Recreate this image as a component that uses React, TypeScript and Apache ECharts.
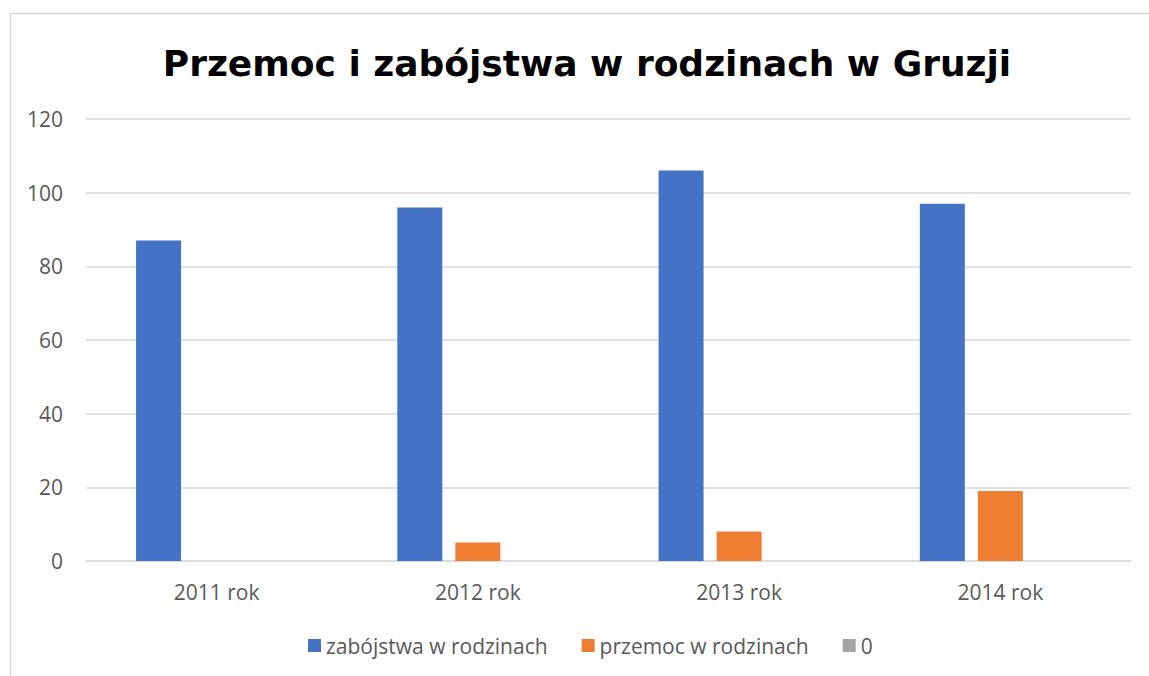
import React, { useEffect, useRef } from "react";
import * as echarts from "echarts";

const categories = ["2011 rok", "2012 rok", "2013 rok", "2014 rok"];
const zabojstwa = [87, 96, 106, 97];
const przemoc = [0, 5, 8, 19];
const zero = [0, 0, 0, 0];
const seriesNames = ["zabójstwa w rodzinach", "przemoc w rodzinach", "0"];
const colors = ["#4472C4", "#ED7D31", "#A5A5A5"];
const yTicks = { min: 0, max: 120, interval: 20 };

export default function App() {
  const ref = useRef<HTMLDivElement>(null);
  useEffect(() => {
    if (!ref.current) return;
    const chart = echarts.init(ref.current, null, { renderer: "svg" });
    const font = "'Open Sans', sans-serif";
    const dataSets = [zabojstwa, przemoc, zero];
    chart.setOption({
      animation: false,
      backgroundColor: "#ffffff",
      title: {
        text: "Przemoc i zabójstwa w rodzinach w Gruzji",
        left: 582,
        textAlign: "center",
        top: 40,
        textStyle: {
          fontFamily: "'DejaVu Sans', sans-serif",
          fontWeight: "bold",
          fontSize: 36,
          color: "#000000",
        },
      },
      graphic: [
        {
          type: "rect",
          shape: { x: 10.5, y: 13.5, width: 1200, height: 700 },
          style: { fill: "none", stroke: "#D9D9D9", lineWidth: 1.5 },
          silent: true,
          z: -1,
        },
      ],
      legend: {
        bottom: 15,
        left: 303,
        itemWidth: 13,
        itemHeight: 13,
        itemGap: 34,
        icon: "rect",
        textStyle: { fontFamily: font, fontSize: 21, color: "#595959" },
        data: seriesNames,
      },
      grid: { left: 86, right: 18, top: 119, bottom: 115, containLabel: false },
      xAxis: {
        type: "category",
        data: categories,
        axisLine: { show: true, lineStyle: { color: "#D9D9D9", width: 1.5 } },
        axisTick: { show: false },
        axisLabel: { fontFamily: font, fontSize: 21, color: "#595959", margin: 20 },
      },
      yAxis: {
        type: "value",
        min: yTicks.min,
        max: yTicks.max,
        interval: yTicks.interval,
        axisLine: { show: false },
        axisTick: { show: false },
        splitLine: { lineStyle: { color: "#D9D9D9", width: 1.5 } },
        axisLabel: { fontFamily: font, fontSize: 21, color: "#595959", margin: 23 },
      },
      series: seriesNames.map((name, i) => ({
        name,
        type: "bar",
        data: dataSets[i],
        barWidth: 45,
        barGap: "29%",
        itemStyle: { color: colors[i] },
      })),
    });
    return () => chart.dispose();
  }, []);
  return (
    <div
      ref={ref}
      style={{ position: "fixed", left: 0, top: 0, width: 1149, height: 676 }}
    />
  );
}
